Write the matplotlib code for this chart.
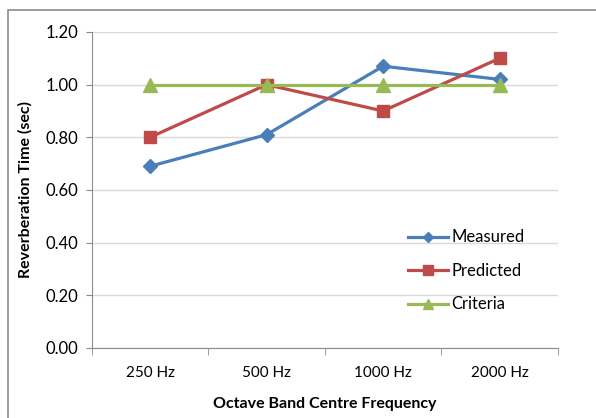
import numpy as np
import matplotlib
matplotlib.use('Agg')
import matplotlib.pyplot as plt
from matplotlib.patches import Rectangle

# Data
bands = ['250 Hz', '500 Hz', '1000 Hz', '2000 Hz']
measured = [0.69, 0.81, 1.07, 1.02]
predicted = [0.80, 1.00, 0.90, 1.10]
criteria = [1.00, 1.00, 1.00, 1.00]

plt.rcParams['font.family'] = ['Lato', 'DejaVu Sans']

fig = plt.figure(figsize=(5.96, 4.18), dpi=100)
ax = fig.add_axes([0.154, 0.1675, 0.782, 0.756])

# outer chart border
fig.patches.append(Rectangle((8 / 596, -0.01), 1.0, 1 - 10 / 418 + 0.01,
                             transform=fig.transFigure, fill=False,
                             edgecolor='#8c8c8c', linewidth=1.2))

x = np.arange(len(bands))
ax.plot(x, measured, color='#4a7ebb', lw=2.3, marker='D', ms=7, label='Measured')
ax.plot(x, predicted, color='#be4b48', lw=2.3, marker='s', ms=9, label='Predicted')
ax.plot(x, criteria, color='#98b954', lw=2.3, marker='^', ms=10, label='Criteria')

ax.set_xlim(-0.5, 3.5)
ax.set_ylim(0, 1.2)
ax.set_yticks(np.arange(0, 1.21, 0.2))
ax.set_yticklabels(['%.2f' % v for v in np.arange(0, 1.21, 0.2)], fontsize=12)
ax.set_xticks(x)
ax.set_xticklabels(bands, fontsize=11)
ax.set_xticks(np.arange(-0.5, 3.6, 1), minor=True)
ax.tick_params(axis='x', which='major', length=0, pad=13)
ax.tick_params(axis='x', which='minor', length=5, color='#8c8c8c', direction='out')
ax.tick_params(axis='y', length=4, color='#8c8c8c', pad=6)

ax.grid(axis='y', color='#d9d9d9', lw=1)
ax.set_axisbelow(True)
for s in ['top', 'right']:
    ax.spines[s].set_visible(False)
for s in ['left', 'bottom']:
    ax.spines[s].set_color('#8c8c8c')

ax.set_xlabel('Octave Band Centre Frequency', fontsize=11.5, fontweight='bold', labelpad=12)
ax.set_ylabel('Reverberation Time (sec)', fontsize=11.5, fontweight='bold', labelpad=9)

ax.legend(loc='upper left', bbox_to_anchor=(400 / 596, 1 - 221 / 418),
          bbox_transform=fig.transFigure, frameon=False, fontsize=12,
          handlelength=2.4, handletextpad=0.2, labelspacing=1.05, borderpad=0,
          markerscale=0.75)

fig.savefig('out.png', dpi=100)
